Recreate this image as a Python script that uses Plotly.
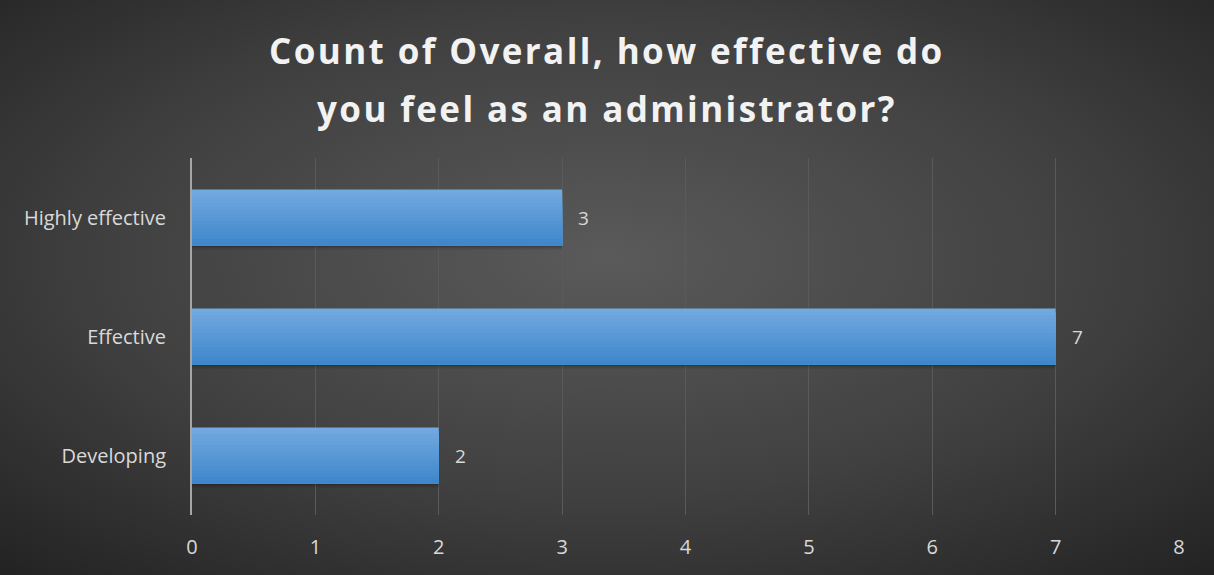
import base64
import plotly.graph_objects as go

# Survey responses: count per self-rated effectiveness level
categories = ["Developing", "Effective", "Highly effective"]
counts = [2, 7, 3]
x_ticks = [0, 1, 2, 3, 4, 5, 6, 7, 8]
title_lines = ["Count of Overall, how effective do", "you feel as an administrator?"]

W, H = 1214, 575
ML, MR, MT, MB = 192, 35, 158, 60
PW, PH = W - ML - MR, H - MT - MB
FONT = "Open Sans"
BAR_W = 0.47

# Dark radial-gradient backdrop
svg = f"""<svg xmlns='http://www.w3.org/2000/svg' width='{W}' height='{H}' viewBox='0 0 {W} {H}' preserveAspectRatio='none'>
<defs><radialGradient id='g' cx='50%' cy='45%' r='75%'>
<stop offset='0%' stop-color='#5a5a5a'/>
<stop offset='55%' stop-color='#404040'/>
<stop offset='100%' stop-color='#222222'/>
</radialGradient></defs>
<rect width='{W}' height='{H}' fill='url(#g)'/></svg>"""
bg_src = "data:image/svg+xml;base64," + base64.b64encode(svg.encode()).decode()


def mix(c1, c2, t):
    a = [int(c1[i:i + 2], 16) for i in (1, 3, 5)]
    b = [int(c2[i:i + 2], 16) for i in (1, 3, 5)]
    return "#" + "".join(f"{round(x + (y - x) * t):02x}" for x, y in zip(a, b))


fig = go.Figure()

# soft shadow just beneath each bar
for k, alpha in enumerate([0.28, 0.16, 0.07]):
    fig.add_trace(go.Bar(
        y=categories, x=counts, orientation="h",
        width=0.012, offset=-BAR_W / 2 - 0.012 * (k + 1),
        marker=dict(color=f"rgba(0,0,0,{alpha})", line=dict(width=0)),
        hoverinfo="skip",
    ))

# bar body: nested blocks anchored at the bottom edge, each shorter and deeper
# in tone than the one below it, giving a light-top / dark-bottom gradient
n_layers = 16
for i in range(n_layers):
    t = i / (n_layers - 1)
    fig.add_trace(go.Bar(
        y=categories, x=counts, orientation="h",
        width=BAR_W * (1 - i / n_layers),
        offset=-BAR_W / 2,
        marker=dict(color=mix("#72a9e0", "#3f87cb", t), line=dict(width=0)),
        hoverinfo="skip",
    ))

annotations = [
    dict(x=v, y=c, xref="x", yref="y", text=str(v), showarrow=False,
         xanchor="left", xshift=14,
         font=dict(family=FONT, size=19, color="#d9d9d9"))
    for c, v in zip(categories, counts)
]

# two-line title, centred on the whole figure
title_centres_px = [51, 108]
for line, cy in zip(title_lines, title_centres_px):
    annotations.append(dict(
        text=f"<span style='letter-spacing:2.4px'><b>{line}</b></span>",
        x=(W / 2 - ML) / PW, xref="paper",
        y=1 + (MT - cy) / PH, yref="paper",
        xanchor="center", yanchor="middle", showarrow=False,
        font=dict(family=FONT, size=35, color="#f2f2f2"),
    ))

fig.update_layout(
    width=W,
    height=H,
    margin=dict(l=ML, r=MR, t=MT, b=MB),
    paper_bgcolor="#3a3a3a",
    plot_bgcolor="rgba(0,0,0,0)",
    images=[dict(
        source=bg_src, xref="paper", yref="paper",
        x=-ML / PW, y=1 + MT / PH,
        sizex=W / PW, sizey=H / PH,
        xanchor="left", yanchor="top", sizing="stretch", layer="below",
    )],
    annotations=annotations,
    showlegend=False,
    barmode="overlay",
    xaxis=dict(
        range=[0, 8],
        tickvals=x_ticks,
        showgrid=True,
        gridcolor="#5a5a5a",
        gridwidth=1,
        zeroline=False,
        showline=False,
        tickfont=dict(family=FONT, size=20, color="#d9d9d9"),
        ticks="",
        ticklabelstandoff=18,
        fixedrange=True,
    ),
    yaxis=dict(
        categoryorder="array",
        categoryarray=categories,
        range=[-0.5, 2.5],
        showgrid=False,
        showline=True,
        linecolor="#a6a6a6",
        linewidth=2,
        ticks="",
        ticklabelstandoff=20,
        tickfont=dict(family=FONT, size=20, color="#d9d9d9"),
        fixedrange=True,
    ),
)

fig.write_html("out.html")
